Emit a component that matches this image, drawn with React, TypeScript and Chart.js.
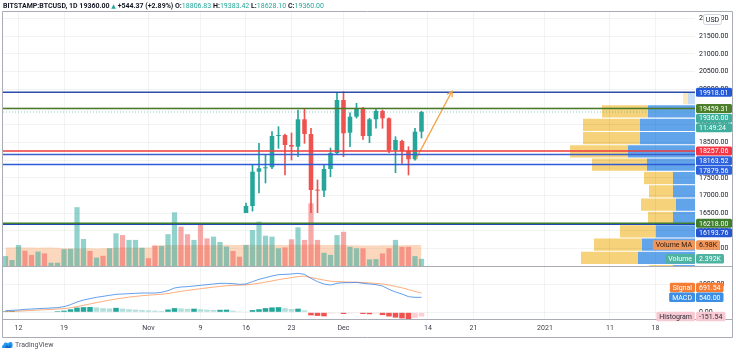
import { useEffect, useRef } from 'react';
import { Chart, registerables } from 'chart.js';

Chart.register(...registerables);

// ---------------- fonts / styles ----------------
const FONT_FAMILY = 'Roboto, "Noto Sans", "DejaVu Sans", sans-serif';
const FS = 7;
const TEXT_COLOR = '#131722';
const GRID = 'rgba(42,46,57,0.06)';
const FRAME = '#a9acb4';
const UP = '#26a69a';
const DOWN = '#ef5350';

// ---------------- axes ----------------
const ORIGIN = '2020-10-12'; // day 0 of the time axis
const X_MIN = -2.385;
const X_MAX = 104.08;
const tickDates = ['2020-10-12', '2020-10-19', '2020-11-01', '2020-11-09', '2020-11-16', '2020-11-23', '2020-12-01', '2020-12-14', '2020-12-21', '2021-01-01', '2021-01-11', '2021-01-18'];
const tickLabels = ['12', '19', 'Nov', '9', '16', '23', 'Dec', '14', '21', '2021', '11', '18'];

const PRICE_MIN = 15011;
const PRICE_MAX = 22186;
const PRICE_STEP = 500;
const VOL_MIN = -17.667;
const VOL_MAX = 84.667;
const MACD_MIN = -241;
const MACD_MAX = 1667;
const MACD_STEP = 1000;
const PRICE_PANE = 254;
const MACD_PANE = 53;

// ---------------- candles (daily, from 2020-11-05) ----------------
const CANDLE_START = '2020-11-05';
const open = [14150, 15590, 15580, 14840, 15480, 15330, 15300, 15750, 16310, 16310, 16076, 15980, 16706, 17675, 17771, 17800, 18683, 18712, 18429, 18381, 19155, 18740, 17158, 17140, 17751, 18203, 19700, 18777, 19229, 19466, 18683, 19155, 19390, 19183, 18288, 18542, 18260, 18025, 18806.83];
const high = [15750, 15960, 15700, 15650, 15840, 15460, 15960, 16400, 16450, 16340, 16150, 16790, 17864, 18477, 18147, 18805, 18946, 18740, 18768, 19418, 19466, 18900, 17441, 17864, 18345, 19890, 19935, 19340, 19607, 19490, 19180, 19466, 19420, 19200, 18664, 18570, 18381, 18901, 19383.42];
const low = [14100, 15250, 14350, 14700, 14820, 15090, 15280, 15450, 16000, 15940, 15870, 15870, 16560, 17073, 17356, 17760, 18336, 17582, 18006, 18099, 18477, 16400, 16508, 16969, 17534, 18180, 18099, 18381, 19190, 18590, 18494, 18901, 18901, 18212, 17647, 17912, 17582, 18000, 18628.1];
const close = [15590, 15580, 14840, 15480, 15330, 15300, 15750, 16330, 16320, 16076, 15952, 16706, 17675, 17771, 17799, 18683, 18712, 18429, 18381, 19155, 18740, 17158, 17140, 17751, 18203, 19700, 18760, 19229, 19466, 18683, 19155, 19390, 19183, 18288, 18570, 18260, 18025, 18805, 19360.0];

// ---------------- daily indicator series (from 2020-10-10) ----------------
const SERIES_START = '2020-10-10';
const volumes = [3.3, 2.0, 7.0, 5.1, 3.7, 4.8, 4.2, 1.1, 1.1, 5.6,
  5.7, 19.6, 9.0, 5.0, 2.8, 3.4, 5.9, 10.9, 10.3, 8.7,
  8.7, 6.1, 2.6, 6.8, 6.7, 10.6, 17.9, 13.1, 10.6, 8.7,
  13.8, 9.2, 9.8, 8.0, 6.5, 5.0, 3.1, 7.0, 12.0, 14.8,
  10.1, 9.8, 5.9, 6.2, 8.9, 12.9, 8.7, 20.9, 8.7, 4.4,
  3.7, 10.3, 11.4, 6.4, 5.9, 5.9, 2.2, 2.3, 4.2, 5.9,
  8.7, 6.4, 6.4, 3.3, 2.392];
const volumeUp = [1, 1, 1, 0, 0, 1, 0, 1, 1, 1,
  1, 1, 1, 0, 1, 0, 1, 1, 0, 1,
  1, 1, 0, 0, 1, 1, 1, 0, 0, 1,
  0, 0, 1, 1, 1, 0, 0, 1, 1, 1,
  1, 1, 1, 0, 0, 1, 0, 0, 0, 1,
  1, 1, 0, 1, 1, 0, 1, 1, 0, 0,
  1, 0, 0, 1, 1];
const volumeMA = [6.2, 6.2, 6.3, 6.2, 6.2, 6.1, 6.2, 6.2, 6.1,
  5.9, 5.9, 5.8, 5.8, 5.9, 5.8, 5.9, 6.0,
  6.1, 6.2, 6.2, 6.1, 6.1, 6.2,
  6.8, 6.9, 7.0, 7.0, 7.0, 6.9, 7.0, 7.0, 6.9, 7.0, 7.0,
  7.1, 7.0, 7.0, 7.1, 7.1, 7.0, 7.0, 7.1, 7.0, 7.0, 7.1, 7.1, 7.0, 7.2, 7.1, 7.0, 7.0, 7.1,
  7.0, 6.9, 6.9, 6.8, 6.8, 6.8, 6.9, 6.9, 6.9, 6.9, 7.0, 7.0, 6.98];
const macd = [59, 71, 83, 107, 119, 131, 143, 155, 167, 203,
  275, 371, 443, 491, 539, 575, 611, 647, 659, 671,
  683, 695, 695, 695, 719, 779, 875, 911, 923, 947,
  971, 995, 1019, 1043, 1043, 1031, 1007, 1019, 1103, 1187,
  1247, 1307, 1355, 1367, 1379, 1403, 1367, 1223, 1103, 1019,
  983, 1043, 1067, 1067, 1079, 1043, 1019, 995, 947, 827,
  731, 659, 563, 539, 540.0];
const signal = [25, 35, 45, 57, 69, 81, 93, 105, 117, 134,
  162, 204, 252, 300, 348, 393, 437, 479, 515, 546,
  573, 597, 617, 633, 650, 676, 716, 755, 789, 820,
  850, 879, 907, 934, 956, 971, 978, 986, 1010, 1045,
  1086, 1130, 1175, 1213, 1246, 1290, 1300, 1250, 1205, 1160,
  1120, 1105, 1095, 1088, 1082, 1072, 1058, 1042, 1020, 982,
  932, 880, 818, 753, 691.54];
const hist = [40, 45, 30, 28, 26, 25, 24, 22, 40, 60,
  108, 170, 185, 190, 175, 150, 140, 160, 130, 110,
  95, 80, 70, 60, 50, 100, 150, 140, 125, 130,
  110, 95, 85, 90, 95, 60, 30, 25, 80, 110,
  150, 175, 185, 150, 120, 130, 70, -110, -130, -145,
  -40, -30, -60, -40, -25, -60, -70, -40, -100, -150,
  -190, -220, -250, -200, -151.54];

// ---------------- drawings ----------------
const levelValues = [19918.01, 19459.31, 18257.06, 18163.52, 17879.56, 16218.0, 16193.76];
const levelColors = ['#2a4caa', '#4b7a2a', '#ef3b3b', '#3b5fcc', '#2f5bd6', '#3f7e2d', '#2348b8'];
const levelBadgeColors = ['#2459d6', '#4d7f2b', '#f23645', '#2d62dc', '#2d62dc', '#3f7e2d', '#2456d2'];
const LAST_PRICE = 19360.0;
const COUNTDOWN = '11:49:24';
const arrowDays = [61.2, 66.7];
const arrowPrices = [18050, 19950];

// ---------------- visible range volume profile ----------------
const profilePrices = [19752, 19376, 19000, 18624, 18248, 17872, 17496, 17120, 16744, 16368, 15992, 15616, 15240, 14864];
const profileUp = [7, 47, 55, 55, 67, 48, 22, 22, 19, 22, 39, 53, 57, 22];
const profileDown = [5, 46, 57, 57, 58, 55, 29, 24, 35, 25, 36, 48, 57, 24];
const profileInValueArea = [0, 1, 1, 1, 1, 1, 1, 1, 1, 1, 1, 1, 1, 1];
const PROFILE_MAX = 692;

// ---------------- helpers ----------------
const DAY_MS = 86400000;
function dayOf(date: string): number {
  return Math.round((Date.parse(date + 'T00:00:00Z') - Date.parse(ORIGIN + 'T00:00:00Z')) / DAY_MS);
}
const font = (size = FS, weight: any = 'normal') => ({ family: FONT_FAMILY, size, weight });

const candleDays = open.map((_, i) => dayOf(CANDLE_START) + i);
const seriesDays = volumes.map((_, i) => dayOf(SERIES_START) + i);

function stepTicks(min: number, max: number, step: number) {
  const out: { value: number }[] = [];
  for (let v = Math.ceil(min / step) * step; v <= max; v += step) out.push({ value: v });
  return out;
}

function roundRect(ctx: CanvasRenderingContext2D, x: number, y: number, w: number, h: number, r: number) {
  ctx.beginPath();
  ctx.moveTo(x + r, y);
  ctx.lineTo(x + w - r, y);
  ctx.quadraticCurveTo(x + w, y, x + w, y + r);
  ctx.lineTo(x + w, y + h - r);
  ctx.quadraticCurveTo(x + w, y + h, x + w - r, y + h);
  ctx.lineTo(x + r, y + h);
  ctx.quadraticCurveTo(x, y + h, x, y + h - r);
  ctx.lineTo(x, y + r);
  ctx.quadraticCurveTo(x, y, x + r, y);
  ctx.closePath();
}

function drawBox(ctx: CanvasRenderingContext2D, x0: number, yc: number, w: number, h: number, text: string, bg: string, fg: string) {
  ctx.fillStyle = bg;
  roundRect(ctx, x0, yc - h / 2, w, h, 1.5);
  ctx.fill();
  ctx.fillStyle = fg;
  ctx.textAlign = 'left';
  ctx.textBaseline = 'middle';
  ctx.fillText(text, x0 + 3, yc + 0.5);
}

// two-part legend badge: name left of the axis, value on the axis
function paneBadge(ctx: CanvasRenderingContext2D, axisX: number, yc: number, name: string, value: string, bg: string, fg: string) {
  const h = 9.5;
  const wn = ctx.measureText(name).width + 6;
  const wv = ctx.measureText(value).width + 6;
  drawBox(ctx, axisX - wn, yc, wn, h, name, bg, fg);
  drawBox(ctx, axisX + 1, yc, wv, h, value, bg, fg);
}

const framePlugin = {
  id: 'frame',
  afterDraw(chart: any) {
    const { ctx, chartArea: a, scales } = chart;
    const right = scales.y.right;
    const bottom = scales.x.bottom;
    ctx.save();
    ctx.strokeStyle = FRAME;
    ctx.lineWidth = 1;
    ctx.beginPath();
    ctx.rect(a.left - 0.5, a.top - 0.5, right - a.left + 1, bottom - a.top + 1);
    const sep = Math.round(scales.y.bottom) + 0.5;
    ctx.moveTo(a.left, sep);
    ctx.lineTo(right, sep);
    ctx.moveTo(a.left, Math.round(a.bottom) + 0.5);
    ctx.lineTo(right, Math.round(a.bottom) + 0.5);
    ctx.stroke();
    ctx.restore();
  },
};

const arrowPlugin = {
  id: 'arrowHead',
  afterDatasetsDraw(chart: any) {
    const idx = chart.data.datasets.findIndex((d: any) => d.label === 'arrow');
    if (idx < 0) return;
    const pts = chart.getDatasetMeta(idx).data;
    const p0 = pts[0], p1 = pts[1];
    const ang = Math.atan2(p1.y - p0.y, p1.x - p0.x);
    const ctx = chart.ctx;
    ctx.save();
    ctx.strokeStyle = '#f5a449';
    ctx.lineWidth = 1.3;
    ctx.beginPath();
    const L = 6;
    ctx.moveTo(p1.x - L * Math.cos(ang - 0.5), p1.y - L * Math.sin(ang - 0.5));
    ctx.lineTo(p1.x, p1.y);
    ctx.lineTo(p1.x - L * Math.cos(ang + 0.5), p1.y - L * Math.sin(ang + 0.5));
    ctx.stroke();
    ctx.restore();
  },
};

const badgePlugin = {
  id: 'badges',
  afterDraw(chart: any) {
    const { ctx, chartArea: a, scales } = chart;
    const yS = scales.y, mS = scales.yM, vS = scales.yV;
    const axisX = a.right;
    ctx.save();
    ctx.font = `${FS}px ${FONT_FAMILY}`;

    // price-axis labels of drawings and of the last price, pushed apart downward
    const GAP = 9.6;
    const items: any[] = levelValues.map((v, i) => ({ y: yS.getPixelForValue(v), text: v.toFixed(2), bg: levelBadgeColors[i] }));
    items.push({ y: yS.getPixelForValue(LAST_PRICE), text: LAST_PRICE.toFixed(2), bg: '#3fae9c', extra: COUNTDOWN });
    items.sort((p, q) => p.y - q.y);
    let prev = -1e9;
    for (const it of items) {
      let y = Math.max(it.y, prev + GAP);
      drawBox(ctx, axisX + 1, y, 36, 9, it.text, it.bg, '#ffffff');
      prev = y;
      if (it.extra) {
        y = prev + GAP;
        drawBox(ctx, axisX + 1, y, 36, 9, it.extra, it.bg, '#ffffff');
        prev = y;
      }
    }

    // USD label
    ctx.fillStyle = '#ffffff';
    ctx.strokeStyle = '#d1d4dc';
    ctx.lineWidth = 1;
    roundRect(ctx, axisX + 8.5, yS.top + 2.5, 18, 10, 2);
    ctx.fill();
    ctx.stroke();
    ctx.fillStyle = TEXT_COLOR;
    ctx.textAlign = 'center';
    ctx.textBaseline = 'middle';
    ctx.fillText('USD', axisX + 17.5, yS.top + 8);

    // volume legends
    const last = volumes.length - 1;
    paneBadge(ctx, axisX, vS.getPixelForValue(volumeMA[last]), 'Volume MA', volumeMA[last].toFixed(2) + 'K', '#f0965a', '#2b1a0e');
    paneBadge(ctx, axisX, vS.getPixelForValue(volumes[last]), 'Volume', volumes[last].toFixed(3) + 'K', '#4fb3a0', '#ffffff');

    // MACD legends (signal pushed upward above the MACD value)
    const yMacd = mS.getPixelForValue(macd[last]);
    const ySig = Math.min(mS.getPixelForValue(signal[last]), yMacd - 9.8);
    paneBadge(ctx, axisX, ySig, 'Signal', signal[last].toFixed(2), '#f57c35', '#ffffff');
    paneBadge(ctx, axisX, yMacd, 'MACD', macd[last].toFixed(2), '#3d8fe6', '#ffffff');
    paneBadge(ctx, axisX, mS.getPixelForValue(hist[last]), 'Histogram', hist[last].toFixed(2), '#f7c9d2', '#2a2e39');
    ctx.restore();
  },
};

function mainConfig(): any {
  const levelSets = levelValues.map((v, i) => ({
    type: 'line',
    label: 'level' + i,
    data: [{ x: X_MIN, y: v }, { x: X_MAX, y: v }],
    borderColor: levelColors[i],
    borderWidth: 1.5,
    pointRadius: 0,
    yAxisID: 'y',
    order: 0,
  }));
  const histColors = hist.map((v, i) => {
    const prev = i > 0 ? hist[i - 1] : 0;
    if (v >= 0) return v >= prev ? UP : '#b2dfdb';
    return v < prev ? DOWN : '#ffcdd2';
  });
  const candleColors = open.map((o, i) => (close[i] >= o ? UP : DOWN));
  const priceClip = { left: 0, top: 0, right: 0, bottom: -MACD_PANE };

  return {
    type: 'bar',
    data: {
      datasets: [
        ...levelSets,
        {
          type: 'line',
          label: 'last',
          data: [{ x: X_MIN, y: LAST_PRICE }, { x: X_MAX, y: LAST_PRICE }],
          borderColor: 'rgba(38,166,154,0.55)',
          borderWidth: 1,
          borderDash: [1, 2],
          pointRadius: 0,
          yAxisID: 'y',
          order: 1,
        },
        {
          type: 'line',
          label: 'arrow',
          data: arrowDays.map((d, i) => ({ x: d, y: arrowPrices[i] })),
          borderColor: '#f5a449',
          borderWidth: 1.3,
          pointRadius: 0,
          yAxisID: 'y',
          order: 0,
        },
        {
          type: 'bar',
          label: 'bodies',
          data: candleDays.map((d, i) => ({ x: d, y: [open[i], close[i]] })),
          backgroundColor: candleColors,
          grouped: false,
          barPercentage: 0.7,
          categoryPercentage: 1,
          minBarLength: 1,
          yAxisID: 'y',
          order: 2,
          clip: priceClip,
        },
        {
          type: 'bar',
          label: 'wicks',
          data: candleDays.map((d, i) => ({ x: d, y: [low[i], high[i]] })),
          backgroundColor: candleColors,
          grouped: false,
          barThickness: 1,
          barPercentage: 1,
          categoryPercentage: 1,
          yAxisID: 'y',
          order: 3,
          clip: priceClip,
        },
        {
          type: 'bar',
          label: 'volume',
          data: seriesDays.map((d, i) => ({ x: d, y: volumes[i] })),
          backgroundColor: volumeUp.map((u) => (u ? 'rgba(38,166,154,0.5)' : 'rgba(239,83,80,0.5)')),
          grouped: false,
          barPercentage: 0.8,
          categoryPercentage: 1,
          yAxisID: 'yV',
          order: 5,
        },
        {
          type: 'line',
          label: 'volumeMA',
          data: seriesDays.map((d, i) => ({ x: d, y: volumeMA[i] })),
          borderWidth: 0,
          borderColor: 'rgba(0,0,0,0)',
          backgroundColor: 'rgba(246,160,100,0.42)',
          fill: 'origin',
          stepped: 'middle',
          pointRadius: 0,
          yAxisID: 'yV',
          order: 6,
        },
        {
          type: 'line',
          label: 'macd',
          data: seriesDays.map((d, i) => ({ x: d, y: macd[i] })),
          borderColor: 'rgba(33,120,230,0.7)',
          borderWidth: 1,
          pointRadius: 0,
          yAxisID: 'yM',
          order: 1,
        },
        {
          type: 'line',
          label: 'signal',
          data: seriesDays.map((d, i) => ({ x: d, y: signal[i] })),
          borderColor: 'rgba(255,120,40,0.6)',
          borderWidth: 1,
          pointRadius: 0,
          yAxisID: 'yM',
          order: 1,
        },
        {
          type: 'bar',
          label: 'hist',
          data: seriesDays.map((d, i) => ({ x: d, y: hist[i] })),
          backgroundColor: histColors,
          grouped: false,
          barPercentage: 0.85,
          categoryPercentage: 1,
          yAxisID: 'yM',
          order: 4,
        },
      ],
    },
    options: {
      responsive: false,
      maintainAspectRatio: false,
      animation: false,
      devicePixelRatio: 1,
      events: [],
      layout: { padding: { left: 3, top: 12, right: 4, bottom: 18 } },
      plugins: { legend: { display: false }, tooltip: { enabled: false } },
      scales: {
        x: {
          type: 'linear',
          offset: false,
          min: X_MIN,
          max: X_MAX,
          afterBuildTicks: (s: any) => {
            s.ticks = tickDates.map((t) => ({ value: dayOf(t) }));
          },
          afterFit: (s: any) => {
            s.height = 18;
          },
          ticks: {
            autoSkip: false,
            maxRotation: 0,
            padding: 5,
            color: '#3a3d48',
            font: font(),
            callback: (_v: any, i: number) => tickLabels[i],
          },
          grid: { color: GRID, drawTicks: false, offset: false },
          border: { display: false },
        },
        y: {
          type: 'linear',
          position: 'right',
          stack: 'panes',
          stackWeight: PRICE_PANE,
          min: PRICE_MIN,
          max: PRICE_MAX,
          afterBuildTicks: (s: any) => {
            s.ticks = stepTicks(PRICE_MIN, PRICE_MAX, PRICE_STEP);
          },
          afterFit: (s: any) => {
            s.width = 37;
          },
          ticks: { autoSkip: false, padding: 4, color: TEXT_COLOR, font: font(), callback: (v: any) => Number(v).toFixed(2) },
          grid: { color: GRID, drawTicks: false },
          border: { display: false },
        },
        yM: {
          type: 'linear',
          position: 'right',
          stack: 'panes',
          stackWeight: MACD_PANE,
          min: MACD_MIN,
          max: MACD_MAX,
          afterBuildTicks: (s: any) => {
            s.ticks = stepTicks(MACD_MIN, MACD_MAX, MACD_STEP);
          },
          afterFit: (s: any) => {
            s.width = 37;
          },
          ticks: { autoSkip: false, padding: 4, color: TEXT_COLOR, font: font(), callback: (v: any) => Number(v).toFixed(2) },
          grid: { color: GRID, drawTicks: false },
          border: { display: false },
        },
        yV: {
          type: 'linear',
          position: 'left',
          display: false,
          min: VOL_MIN,
          max: VOL_MAX,
          afterFit: (s: any) => {
            s.width = 0;
          },
        },
      },
    },
    plugins: [framePlugin, arrowPlugin, badgePlugin],
  };
}

function profileConfig(): any {
  const blue = profileInValueArea.map((v) => (v ? 'rgb(98,164,234)' : 'rgb(196,220,246)'));
  const yellow = profileInValueArea.map((v) => (v ? 'rgb(246,211,122)' : 'rgb(251,234,190)'));
  return {
    type: 'bar',
    data: {
      datasets: [
        { label: 'up', data: profilePrices.map((p, i) => ({ x: profileUp[i], y: p })), backgroundColor: blue, barPercentage: 0.92, categoryPercentage: 1 },
        { label: 'down', data: profilePrices.map((p, i) => ({ x: profileDown[i], y: p })), backgroundColor: yellow, barPercentage: 0.92, categoryPercentage: 1 },
      ],
    },
    options: {
      indexAxis: 'y',
      responsive: false,
      maintainAspectRatio: false,
      animation: false,
      devicePixelRatio: 1,
      events: [],
      layout: { padding: { left: 3, right: 41, top: 12, bottom: 355 - 12 - PRICE_PANE } },
      plugins: { legend: { display: false }, tooltip: { enabled: false } },
      scales: {
        x: { type: 'linear', display: false, reverse: true, min: 0, max: PROFILE_MAX, stacked: true },
        y: { type: 'linear', display: false, offset: false, min: PRICE_MIN, max: PRICE_MAX, stacked: true },
      },
    },
  };
}

export default function App() {
  const mainRef = useRef<HTMLCanvasElement>(null);
  const profRef = useRef<HTMLCanvasElement>(null);
  useEffect(() => {
    const prof = new Chart(profRef.current as HTMLCanvasElement, profileConfig());
    const main = new Chart(mainRef.current as HTMLCanvasElement, mainConfig());
    return () => {
      main.destroy();
      prof.destroy();
    };
  }, []);

  const teal = { color: '#26a69a' };
  const bold = { fontWeight: 700 as const };
  return (
    <div style={{ position: 'fixed', left: 0, top: 0, width: 736, height: 355, background: '#ffffff', overflow: 'hidden', fontFamily: FONT_FAMILY }}>
      <canvas ref={profRef} width={736} height={355} style={{ position: 'absolute', left: 0, top: 0 }} />
      <canvas ref={mainRef} width={736} height={355} style={{ position: 'absolute', left: 0, top: 0 }} />
      <div style={{ position: 'absolute', left: 3, top: 0, fontSize: 7, lineHeight: '11px', color: TEXT_COLOR, whiteSpace: 'nowrap' }}>
        <span style={bold}>BITSTAMP:BTCUSD, 1D</span> <span style={bold}>19360.00</span> <span style={{ color: '#26a69a', fontSize: 6 }}>▲</span> <span style={bold}>+544.37 (+2.89%)</span>{' '}
        <span style={bold}>O:</span><span style={teal}>18806.83</span> <span style={bold}>H:</span><span style={teal}>19383.42</span>{' '}
        <span style={bold}>L:</span><span style={teal}>18628.10</span> <span style={bold}>C:</span><span style={teal}>19360.00</span>
      </div>
      <div style={{ position: 'absolute', left: 2, top: 341, display: 'flex', alignItems: 'center', gap: 2 }}>
        <svg width="11" height="8" viewBox="0 0 22 16">
          <path d="M2 14 Q0 14 0 11 Q0 8 3 8 Q3 3 8 3 Q11 3 12 5 Q14 1 18 2 Q22 3 21 8 Q22 14 18 14 Z" fill="#2196f3" />
          <path d="M5 14 L10 8 L13 11 L17 6 L17 14 Z" fill="#1565c0" />
        </svg>
        <span style={{ fontSize: 7, color: '#50535e' }}>TradingView</span>
      </div>
    </div>
  );
}
